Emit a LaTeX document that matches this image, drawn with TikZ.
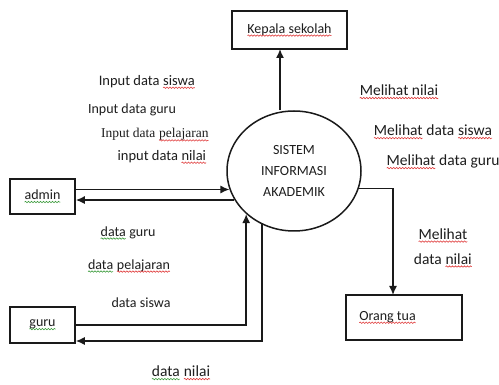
\documentclass[tikz,border=0pt]{standalone}
\usepackage{fontspec}
\setmainfont{Carlito}
\newfontfamily\serifx{Liberation Serif}
\usetikzlibrary{arrows.meta,shapes.geometric,decorations.pathmorphing}
\definecolor{ink}{HTML}{1A1A1A}
\definecolor{txt}{HTML}{1E1E1E}
\definecolor{spellred}{HTML}{E03A3A}
\definecolor{spellgreen}{HTML}{3A9A3A}
\newcommand\squig[2][spellred]{\tikz[baseline=(w.base)]{\node[rectangle, draw=none, inner sep=0pt, outer sep=0pt, minimum width=0pt, minimum height=0pt, text width={}, font={}] (w) {#2};\draw[#1, line width=0.6pt, decorate, decoration={snake, amplitude=0.7pt, segment length=3pt}] ([yshift=-2.4pt]w.base west) -- ([yshift=-2.4pt]w.base east);}}
\newcommand\gsq[1]{\squig[spellgreen]{#1}}
\begin{document}
\begin{tikzpicture}[x=1pt,y=-1pt,
  line width=1.5pt, draw=ink,
  every node/.style={text=txt, font=\fontsize{14}{16}\selectfont},
  box/.style={draw=ink, line width=1.5pt, rectangle, inner sep=0pt},
  arr/.style={draw=ink, line width=1.5pt, -{Latex[length=9pt,width=8pt]}},
  lbl/.style={inner sep=0pt},
  big/.style={font=\fontsize{15.5}{18}\selectfont}]
\useasboundingbox[fill=white] (0,0) rectangle (499,385);
% entities
\node[box, minimum width=115, minimum height=38] (kepala) at (289.5,30) {\squig{Kepala sekolah}};
\node[box, minimum width=65, minimum height=35] (admin) at (42.5,196.5) {\gsq{admin}};
\node[box, minimum width=65, minimum height=36] (guru) at (42.5,325) {\gsq{guru}};
\node[box, minimum width=116, minimum height=45, text width=90, align=left, inner xsep=13] (orang) at (404,317.5) {\squig{Orang tua}};
% process
\node[draw=ink, line width=1.5pt, ellipse, inner sep=0pt, minimum width=134, minimum height=120, align=center, font=\fontsize{14}{21}\selectfont] (sys) at (294,171) {SISTEM\\INFORMASI\\AKADEMIK};
% helper coordinates
\coordinate (kp) at (280,49);
\coordinate (g2) at (262,341);
\coordinate (o1) at (393,295);
% flows
\draw[arr] (kp |- sys.north) -- (kp);
\draw[arr] (admin.east |- sys.196) -- (sys.196);
\draw[arr] (sys.206) -- (admin.east |- sys.206);
\draw[arr] (guru.east) -| (sys.222);
\draw[arr] (sys.239) |- (guru.east |- g2);
\draw[arr] (sys.-15) -| (o1);
% labels
\node[lbl, font=\fontsize{14.5}{16}\selectfont] (l1) at (147,82) {Input data \squig{siswa}};
\node[lbl] (l2) at (132,110) {Input data guru};
\node[lbl, font=\serifx\fontsize{13.5}{15}\selectfont] (l3) at (155,135) {Input data \squig{pelajaran}};
\node[lbl, font=\fontsize{14.5}{16}\selectfont] (l4) at (162,157) {input data \squig{nilai}};
\node[lbl, big] (l5) at (399,92) {\squig{Melihat nilai}};
\node[lbl, big] (l6) at (433,132) {\squig{Melihat} data \squig{siswa}};
\node[lbl, big] (l7) at (443,162) {\squig{Melihat} data guru};
\node[lbl] (l8) at (128,233) {\gsq{data} guru};
\node[lbl] (l9) at (129,266) {\gsq{data} \squig{pelajaran}};
\node[lbl] (l10) at (141,303) {data siswa};
\node[lbl, big] (l11) at (181,373) {\gsq{data} \squig{nilai}};
\node[lbl, align=center, font=\fontsize{15.5}{25}\selectfont] (l12) at (443,248) {\squig{Melihat}\\data \squig{nilai}};
\end{tikzpicture}
\end{document}
